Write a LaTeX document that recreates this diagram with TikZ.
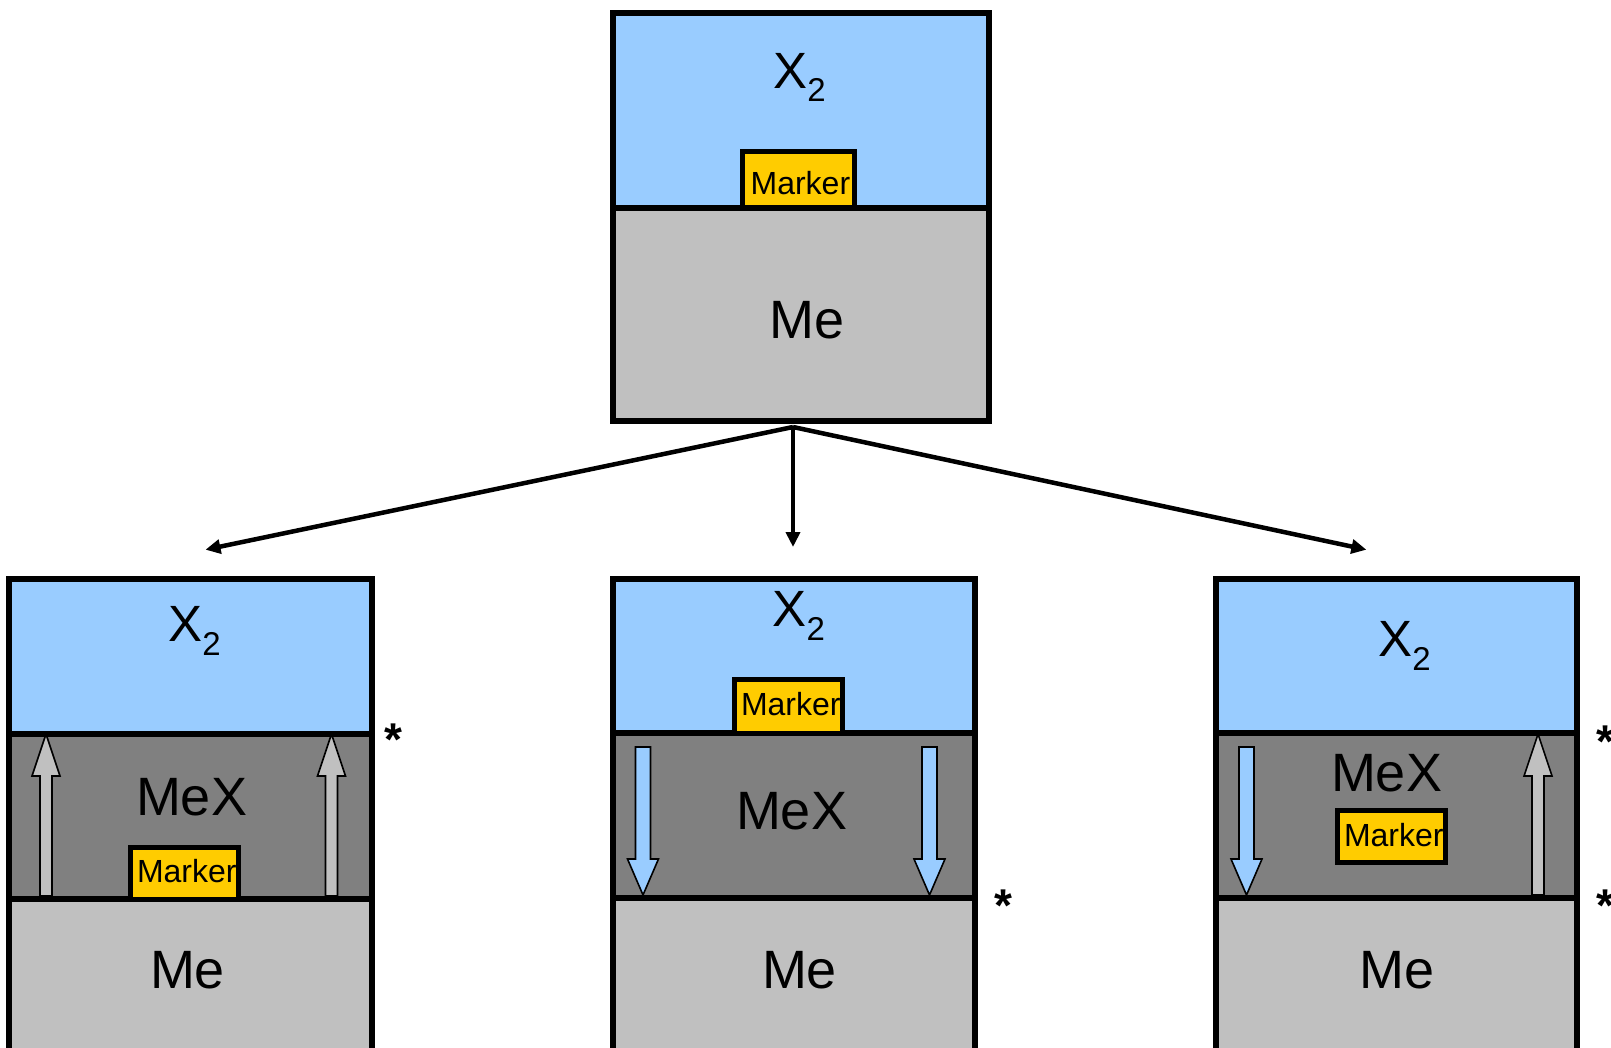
\documentclass[tikz,border=0pt]{standalone}
\usepackage{fontspec}
\setmainfont{Liberation Sans}
\usetikzlibrary{arrows.meta}
\definecolor{xblue}{HTML}{99CCFF}
\definecolor{mexgray}{HTML}{808080}
\definecolor{megray}{HTML}{C0C0C0}
\definecolor{markyellow}{HTML}{FFCC00}
\tikzset{
  layer/.style={draw=black, line width=5.5pt, rectangle, inner sep=0pt, outer sep=0pt, anchor=north west},
  markerbox/.style={draw=black, fill=markyellow, line width=5pt, rectangle, inner sep=0pt, outer sep=0pt},
  bigtext/.style={font=\fontsize{54}{60}\selectfont, inner sep=0pt, outer sep=0pt, anchor=base west},
  xtext/.style={font=\fontsize{51}{60}\selectfont, inner sep=0pt, outer sep=0pt, anchor=base west},
  marktext/.style={font=\fontsize{32}{36}\selectfont, inner sep=0pt, outer sep=0pt, anchor=base west},
  startext/.style={font=\fontsize{46}{48}\selectfont\bfseries, inner sep=0pt, outer sep=0pt, anchor=base},
  grayblock/.style={fill=megray, draw=black, line width=1.6pt, line join=miter},
  blueblock/.style={fill=xblue, draw=black, line width=1.6pt, line join=miter},
  conn/.style={draw=black, line width=4.5pt, -{Triangle[length=15pt, width=14pt]}},
  connthin/.style={draw=black, line width=3.8pt, -{Triangle[length=15pt, width=14pt]}},
}
\newcommand{\xtwo}{X\raisebox{-13.4pt}{\fontsize{33}{33}\selectfont 2}}
\begin{document}
\begin{tikzpicture}[x=1pt, y=-1pt]
\useasboundingbox (0,0) rectangle (1611,1048);
\fill[white] (0,0) rectangle (1611,1048);

% ---------- top box ----------
\node[layer, fill=xblue, minimum width=376pt, minimum height=195pt] (t-x2) at (613,13) {};
\node[layer, fill=megray, minimum width=376pt, minimum height=213pt] (t-me) at (613,208) {};
\node[markerbox, minimum width=112pt, minimum height=56pt] (t-mk) at (798.7,180) {};
\node[marktext] (t-mkt) at (750.6,195) {Marker};
\node[xtext] (t-x2l) at (773.3,88.3) {\xtwo};
\node[bigtext] (t-mel) at (769.3,338.3) {Me};

% ---------- connectors ----------
\coordinate (src) at (793,427);
\coordinate (tgtL) at (205.5,549.7);
\coordinate (tgtM) at (793,547);
\coordinate (tgtR) at (1366.4,549.7);
\draw[conn] (src) -- (tgtL);
\draw[connthin] (src) -- (tgtM);
\draw[conn] (src) -- (tgtR);

% ---------- left box ----------
\node[layer, fill=xblue, minimum width=363pt, minimum height=155pt] (l-x2) at (9,579) {};
\node[layer, fill=mexgray, minimum width=363pt, minimum height=165pt] (l-mex) at (9,734) {};
\node[layer, fill=megray, minimum width=363pt, minimum height=170pt] (l-me) at (9,899) {};
\draw[grayblock] (40,896) -- (40,776) -- (32,776) -- (46,734) -- (60,776) -- (52,776) -- (52,896) -- cycle;
\draw[grayblock] (325.5,896) -- (325.5,776) -- (317.5,776) -- (331.5,734) -- (345.5,776) -- (337.5,776) -- (337.5,896) -- cycle;
\node[markerbox, minimum width=108pt, minimum height=52pt] (l-mk) at (184.5,873) {};
\node[marktext] (l-mkt) at (137,882.7) {Marker};
\node[xtext] (l-x2l) at (168.3,641.7) {\xtwo};
\node[bigtext] (l-mexl) at (136,815) {MeX};
\node[bigtext] (l-mel) at (150,988.3) {Me};
\node[startext] (l-star) at (393,755) {*};

% ---------- middle box ----------
\node[layer, fill=xblue, minimum width=362pt, minimum height=154pt] (m-x2) at (613,579) {};
\node[layer, fill=mexgray, minimum width=362pt, minimum height=165pt] (m-mex) at (613,733) {};
\node[layer, fill=megray, minimum width=362pt, minimum height=170pt] (m-me) at (613,898) {};
\draw[blueblock] (635.5,747) -- (650.5,747) -- (650.5,859) -- (658.5,859) -- (643,895) -- (627.5,859) -- (635.5,859) -- cycle;
\draw[blueblock] (922,747) -- (937,747) -- (937,859) -- (945,859) -- (929.5,895) -- (914,859) -- (922,859) -- cycle;
\node[markerbox, minimum width=108pt, minimum height=54pt] (m-mk) at (788,706) {};
\node[marktext] (m-mkt) at (741,715) {Marker};
\node[xtext] (m-x2l) at (772.7,626.7) {\xtwo};
\node[bigtext] (m-mexl) at (736,829.3) {MeX};
\node[bigtext] (m-mel) at (762,988.3) {Me};
\node[startext] (m-star) at (1003,921) {*};

% ---------- right box ----------
\node[layer, fill=xblue, minimum width=361pt, minimum height=154pt] (r-x2) at (1216,579) {};
\node[layer, fill=mexgray, minimum width=361pt, minimum height=165pt] (r-mex) at (1216,733) {};
\node[layer, fill=megray, minimum width=361pt, minimum height=170pt] (r-me) at (1216,898) {};
\draw[blueblock] (1239,747) -- (1254,747) -- (1254,859) -- (1262,859) -- (1246.5,895) -- (1231,859) -- (1239,859) -- cycle;
\draw[grayblock] (1532,895) -- (1532,776) -- (1524,776) -- (1538,734) -- (1552,776) -- (1544,776) -- (1544,895) -- cycle;
\node[markerbox, minimum width=108pt, minimum height=52.5pt] (r-mk) at (1391,836.7) {};
\node[marktext] (r-mkt) at (1344,846.7) {Marker};
\node[xtext] (r-x2l) at (1378.3,656.7) {\xtwo};
\node[bigtext] (r-mexl) at (1331,791.7) {MeX};
\node[bigtext] (r-mel) at (1359.3,988.3) {Me};
\node[startext] (r-star1) at (1605,757) {*};
\node[startext] (r-star2) at (1605,921) {*};
\end{tikzpicture}
\end{document}
